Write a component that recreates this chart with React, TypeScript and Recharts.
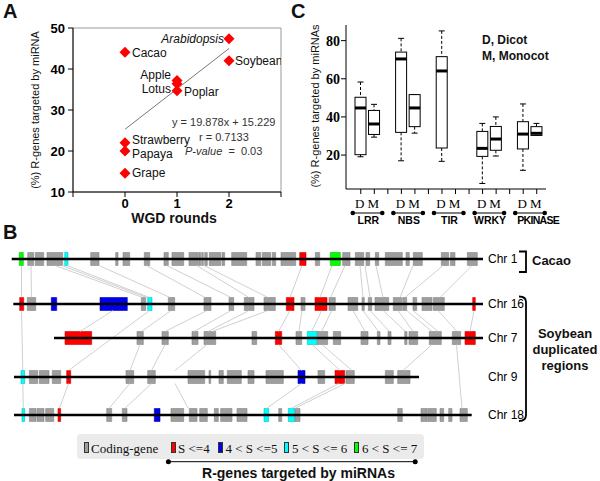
import React from "react";
import {
  Bar,
  ComposedChart,
  ReferenceArea,
  ReferenceLine,
  Scatter,
  ScatterChart,
  XAxis,
  YAxis,
} from "recharts";

const SANS = '"Liberation Sans", Arial, Helvetica, sans-serif';
const SERIF = '"Liberation Serif", "Times New Roman", serif';

// ---------- panel A: R-genes targeted vs WGD rounds
const species = ["Arabidopsis", "Cacao", "Soybean", "Apple", "Lotus", "Poplar", "Strawberry", "Papaya", "Grape"];
const wgdRounds = [2, 0, 2, 1, 1, 1, 0, 0, 0];
const pctTargeted = [47.4, 44.1, 42.0, 37.2, 36.4, 34.7, 22.0, 20.0, 14.6];
const fitStart = [0, 25.3];
const fitEnd = [2, 45.0];
const wgdTicks = [-1, 0, 1, 2, 3];
const pctTicksA = [10, 20, 30, 40, 50];

// ---------- panel C: box plots, [min, q1, median, q3, max]
const families = ["LRR", "NBS", "TIR", "WRKY", "PKINASE"];
const dicotBox = [
  [19.1, 20.2, 44.7, 50.3, 58.3],
  [17.0, 31.9, 70.4, 74.0, 81.2],
  [16.7, 23.7, 64.1, 71.6, 85.1],
  [5.1, 19.3, 23.5, 32.4, 36.6],
  [12.0, 23.2, 31.0, 37.5, 46.8],
];
const monocotBox = [
  [29.4, 30.8, 36.3, 43.4, 46.6],
  [31.5, 34.9, 44.7, 51.7, 51.7],
  null,
  [19.5, 22.5, 28.4, 35.0, 40.0],
  [30.3, 30.3, 31.4, 34.9, 36.6],
];
const pctTicksC = [20, 40, 60, 80];

// ---------- panel B: gene tracks. [start, end, class]
// g coding gene, r S<=4, b 4<S<=5, c 5<S<=6, n 6<S<=7
const chrNames = ["Chr 1", "Chr 16", "Chr 7", "Chr 9", "Chr 18"];
const chrTrack = [19, 64, 98, 137, 175];
const chrSpan = [
  [11.7, 483],
  [13.3, 483],
  [54, 483],
  [14, 419],
  [14, 471.7],
];
const genesChr1 = [
  [19.3, 23.3, "n"], [27.7, 33.7, "g"], [35.3, 43.7, "g"], [47, 62.7, "g"], [64.7, 68, "c"],
  [90.7, 99, "g"], [115.7, 118, "g"], [123, 129.7, "g"], [144.3, 149.7, "g"], [164, 168.3, "g"],
  [172, 183.7, "g"], [189, 198.3, "g"], [199, 200.7, "g"], [201.7, 203.3, "g"], [204.7, 207.3, "g"],
  [209.3, 220.7, "g"], [222, 224.7, "g"], [231.7, 246.7, "g"], [256, 260.7, "g"], [262.3, 270.7, "g"],
  [272.3, 275.7, "g"], [281, 295.7, "g"], [299.7, 306, "r"], [315.3, 319.7, "g"], [330.3, 340.3, "n"],
  [342.7, 350, "g"], [355.3, 363.7, "g"], [366, 369.7, "g"], [375.3, 378.7, "g"], [385.3, 402.3, "g"],
  [406, 409.3, "g"], [413.3, 422.3, "g"], [441.3, 448.7, "g"], [450.5, 455, "g"], [467.3, 477.3, "g"],
];
const genesChr16 = [
  [19.7, 23.7, "r"], [27.3, 35.7, "g"], [51.3, 56.7, "b"], [100, 127.3, "b"], [141.3, 145.7, "g"],
  [147.7, 152, "c"], [168.3, 174.7, "g"], [204, 211, "g"], [229, 233.7, "g"], [244.3, 254, "g"],
  [264, 275.3, "g"], [286.3, 294, "r"], [301, 305, "g"], [315, 327, "r"], [329, 335.3, "g"],
  [348, 357.7, "g"], [362, 364.3, "g"], [368.3, 371.7, "g"], [375, 388.7, "g"], [393.3, 401.7, "g"],
  [402.7, 406.7, "g"], [413, 416.7, "g"], [422, 432, "g"], [433.3, 444.3, "g"], [472.7, 475.3, "r"],
];
const genesChr7 = [
  [65, 91.7, "r"], [137, 143.3, "g"], [162, 168.3, "g"], [192, 198, "g"], [204, 215.7, "g"],
  [252, 256.7, "g"], [275.3, 281.7, "r"], [296, 301.7, "g"], [307.3, 317.3, "c"], [317.3, 327.7, "g"],
  [333.3, 340.7, "g"], [361, 368, "g"], [377.3, 380, "g"], [388, 391, "g"], [404.7, 407, "g"],
  [409, 417.7, "g"], [429.3, 441.3, "g"], [452.3, 460.7, "g"], [465, 475.3, "r"],
];
const genesChr9 = [
  [21, 24.7, "c"], [29.3, 37.7, "g"], [39.3, 49, "g"], [52.3, 60.7, "g"], [66.7, 70.7, "r"],
  [126, 133.7, "g"], [147.7, 155.3, "g"], [188, 204.7, "g"], [209, 210.7, "g"], [219, 223.3, "g"],
  [227.3, 241.3, "g"], [248, 254, "g"], [266, 283.3, "g"], [298, 305, "b"], [318, 324.7, "g"],
  [335, 344.7, "r"], [346, 354.3, "g"], [385.3, 393.3, "g"], [397.7, 410, "g"],
];
const genesChr18 = [
  [22, 24.7, "c"], [29.3, 36, "g"], [37, 44, "g"], [45.7, 53.7, "g"], [58, 60.7, "r"],
  [106.7, 111.7, "g"], [122.3, 127, "g"], [154.3, 160, "b"], [171, 183.7, "g"], [189.3, 197, "g"],
  [199.7, 207.3, "g"], [214.3, 218.3, "g"], [220.7, 232, "g"], [237, 247, "g"], [264, 268.7, "c"],
  [278.7, 281.7, "g"], [288.3, 295, "c"], [295, 300, "g"], [397.7, 402.3, "g"], [421, 427, "g"],
  [427.7, 436.3, "g"], [440, 443.7, "g"], [448.7, 452, "g"], [460, 467.3, "g"],
];
const genesByChr = [genesChr1, genesChr16, genesChr7, genesChr9, genesChr18];

// syntenic links, [position on upper track, position on lower track]
const linksChr1Chr16 = [
  [21.5, 21.5], [31, 31.5], [55, 142.7], [61.7, 146.7], [67, 149.5], [99, 170], [146.7, 205],
  [166.7, 231], [196.7, 249], [204, 268], [302, 290], [332, 320], [345, 330.5], [360, 363],
  [365, 370], [376, 383], [413, 400], [443, 405], [472, 440],
];
const linksChr16Chr7 = [
  [113, 80], [171, 141.7], [207, 165], [231, 194], [249, 208], [268, 212], [290, 278.5],
  [302, 299], [321.7, 311.7], [331.7, 321.7], [353, 365], [363, 378.5], [370, 389.5],
  [383, 405.5], [398, 413], [406.7, 432], [413, 438], [438, 457], [474, 470],
];
const linksChr16Chr9 = [[21.5, 22.8], [149.5, 68.5]];
const linksChr7Chr9 = [[140, 130], [165, 151.5], [207, 175], [278.5, 301.5], [312, 340], [322, 352], [432, 403]];
const linksChr7Chr18 = [[456.5, 462]];
const linksChr9Chr18 = [
  [22.8, 23.3], [68.5, 59.3], [129.8, 109], [151.5, 124.7], [175, 188.3], [301.5, 266.3], [339, 291], [345, 294.5],
];
const linkSets: [number, number, number[][]][] = [
  [0, 1, linksChr1Chr16],
  [1, 2, linksChr16Chr7],
  [1, 3, linksChr16Chr9],
  [2, 3, linksChr7Chr9],
  [2, 4, linksChr7Chr18],
  [3, 4, linksChr9Chr18],
];

const legendLabels = ["Coding-gene", "S <=4", "4 < S <=5", "5 < S <= 6", "6 < S <= 7"];
const legendClasses = ["g", "r", "b", "c", "n"];

const geneFill: Record<string, string> = { g: "#9e9e9e", r: "#ff0000", b: "#0000f0", c: "#00ffff", n: "#00ff00" };
const geneStroke: Record<string, string> = { g: "#858585", r: "#d00000", b: "#0000a0", c: "#00c0c0", n: "#00c000" };

// label placement next to the diamonds (style only)
const labelPlace: Record<string, [number, number, "start" | "end"]> = {
  Arabidopsis: [-5, 0, "end"],
  Cacao: [7, 0, "start"],
  Soybean: [6, 0, "start"],
  Apple: [-6, -5.5, "end"],
  Lotus: [-6, 4.5, "end"],
  Poplar: [7, 0.5, "start"],
  Strawberry: [7, -3.5, "start"],
  Papaya: [7, 2.5, "start"],
  Grape: [7, 0, "start"],
};

const pointsA = species.map((name, i) => ({ name, x: wgdRounds[i], y: pctTargeted[i] }));

const slots: any[] = [];
families.forEach((f, i) => {
  slots.push({ slot: `${f}-D`, tick: "D", family: f, stats: dicotBox[i] });
  slots.push({ slot: `${f}-M`, tick: "M", family: f, stats: monocotBox[i] });
  if (i < families.length - 1) slots.push({ slot: `gap${i}`, tick: "", family: "", stats: null });
});

const boxRange = (d: any) => (d.stats ? [d.stats[0], d.stats[4]] : null);

// chromosome backbones as two-point series
const chrLines = chrSpan.map(([s, e], r) => [
  { x: s, y: chrTrack[r] },
  { x: e, y: chrTrack[r] },
]);

function T({ x, y, size = 12, bold = false, italic = false, family = SANS, anchor = "start", color = "#111", children }: any) {
  const tx = anchor === "middle" ? "-50%" : anchor === "end" ? "-100%" : "0";
  return (
    <div
      style={{
        position: "absolute",
        left: x,
        top: y,
        transform: `translate(${tx}, -50%)`,
        fontSize: size,
        fontWeight: bold ? 700 : 400,
        fontStyle: italic ? "italic" : "normal",
        fontFamily: family,
        lineHeight: 1,
        whiteSpace: "nowrap",
        color,
      }}
    >
      {children}
    </div>
  );
}

function VText({ x, y, size = 11, children }: any) {
  return (
    <div
      style={{
        position: "absolute",
        left: x,
        top: y,
        transform: "translate(-50%, -50%) rotate(-90deg)",
        fontSize: size,
        fontFamily: SANS,
        lineHeight: 1,
        whiteSpace: "nowrap",
        color: "#111",
      }}
    >
      {children}
    </div>
  );
}

const DiamondLabel = (props: any) => {
  const { cx, cy, payload } = props;
  const [dx, dy, anchor] = labelPlace[payload.name];
  const r = 5.5;
  return (
    <g>
      <text
        x={cx + dx}
        y={cy + dy}
        dy="0.36em"
        textAnchor={anchor}
        fontSize={12}
        fontFamily={SANS}
        fontStyle={payload.name === "Arabidopsis" ? "italic" : "normal"}
        fill="#111"
      >
        {payload.name}
      </text>
      <polygon points={`${cx},${cy - r} ${cx + r},${cy} ${cx},${cy + r} ${cx - r},${cy}`} fill="#ff0000" />
    </g>
  );
};

const BoxShape = (props: any) => {
  const { x, y, width, height, payload } = props;
  const s = payload && payload.stats;
  if (!s || !height) return null;
  const [lo, q1, med, q3, hi] = s;
  const py = (v: number) => y + (height * (hi - v)) / (hi - lo);
  const cx = x + width / 2;
  const cap = 3;
  return (
    <g>
      <line x1={cx} x2={cx} y1={py(hi)} y2={py(q3)} stroke="#000" strokeDasharray="3 2" />
      <line x1={cx} x2={cx} y1={py(q1)} y2={py(lo)} stroke="#000" strokeDasharray="3 2" />
      <line x1={cx - cap} x2={cx + cap} y1={py(hi)} y2={py(hi)} stroke="#000" />
      <line x1={cx - cap} x2={cx + cap} y1={py(lo)} y2={py(lo)} stroke="#000" />
      <rect x={x} y={py(q3)} width={width} height={py(q1) - py(q3)} fill="#fff" stroke="#000" />
      <line x1={x} x2={x + width} y1={py(med)} y2={py(med)} stroke="#000" strokeWidth={3} />
    </g>
  );
};

const SlotTick = (props: any) => {
  const { x, y, payload } = props;
  const s = slots.find((d) => d.slot === payload.value);
  if (!s || !s.tick) return <g />;
  const isLast = s.family === families[families.length - 1];
  return (
    <g>
      <text x={x - 1} y={y} dy="0.71em" textAnchor="middle" fontSize={13} fontFamily={SERIF} fill="#000">
        {s.tick}
      </text>
      {s.tick === "D" && (
        <g>
          <line x1={x - 8} x2={x + 21.5} y1={y + 14} y2={y + 14} stroke="#000" strokeWidth={1} />
          <circle cx={x - 8} cy={y + 14} r={2.3} fill="#000" />
          <circle cx={x + 21.5} cy={y + 14} r={2.3} fill="#000" />
          <text
            x={isLast ? x + 15 : x + 7.5}
            y={y + 25}
            textAnchor="middle"
            fontSize={10.5}
            fontWeight={700}
            fontFamily={SANS}
            letterSpacing={isLast ? -0.7 : 0}
            fill="#000"
          >
            {s.family}
          </text>
        </g>
      )}
    </g>
  );
};

const axisTickA = { fill: "#000", fontSize: 13, fontWeight: 700, fontFamily: SANS };

export default function App() {
  const half = 6.5;
  return (
    <div style={{ position: "absolute", left: 0, top: 0, width: 600, height: 481, background: "#fff", overflow: "hidden" }}>
      {/* panel A */}
      <div style={{ position: "absolute", left: 0, top: 0 }}>
        <ScatterChart width={300} height={215} margin={{ top: 28, right: 19, bottom: 0, left: 0 }}>
          <XAxis
            type="number"
            dataKey="x"
            domain={[-1, 3]}
            ticks={wgdTicks}
            interval={0}
            tickFormatter={(v: number) => (v < 0 || v > 2 ? "" : String(v))}
            height={23}
            tickSize={5}
            tickMargin={2}
            stroke="#000"
            tick={axisTickA}
            allowDataOverflow
          />
          <YAxis
            type="number"
            dataKey="y"
            domain={[10, 50]}
            ticks={pctTicksA}
            interval={0}
            width={73}
            tickSize={5}
            tickMargin={3}
            stroke="#000"
            tick={axisTickA}
            allowDataOverflow
          />
          <ReferenceArea x1={-1} x2={3} y1={10} y2={50} fill="none" stroke="#9a9a9a" ifOverflow="visible" />
          <ReferenceLine
            segment={[
              { x: fitStart[0], y: fitStart[1] },
              { x: fitEnd[0], y: fitEnd[1] },
            ]}
            stroke="#777"
            strokeWidth={1}
          />
          <Scatter data={pointsA} dataKey="y" shape={DiamondLabel} isAnimationActive={false} />
        </ScatterChart>
      </div>
      <VText x={35} y={110}>(%) R-genes targeted by miRNA</VText>
      <T x={174} y={218} size={14} bold anchor="middle">WGD rounds</T>
      <T x={172} y={122} size={11} color="#333">y = 19.878x + 15.229</T>
      <T x={199} y={137} size={11} color="#333">r = 0.7133</T>
      <T x={185} y={151} size={11} color="#333">
        <i>P-value</i>&nbsp;&nbsp;=&nbsp; 0.03
      </T>

      {/* panel C */}
      <div style={{ position: "absolute", left: 270, top: 0 }}>
        <ComposedChart width={330} height={230} data={slots} margin={{ top: 25, right: 54, bottom: 0, left: 0 }}>
          <XAxis
            dataKey="slot"
            type="category"
            padding={{ left: 8, right: 2.5 }}
            height={41}
            tickSize={5}
            tickMargin={5}
            interval={0}
            stroke="#000"
            tick={SlotTick}
          />
          <XAxis xAxisId="top" dataKey="slot" orientation="top" height={0} tick={false} tickLine={false} stroke="#000" padding={{ left: 8, right: 2.5 }} />
          <YAxis
            type="number"
            domain={[2.2, 88.2]}
            ticks={pctTicksC}
            interval={0}
            width={76}
            tickSize={5}
            tickMargin={1}
            stroke="#000"
            tick={{ fill: "#000", fontSize: 14, fontWeight: 700, fontFamily: SERIF }}
            allowDataOverflow
          />
          <YAxis yAxisId="right" orientation="right" width={0} domain={[2.2, 88.2]} tick={false} tickLine={false} stroke="#000" />
          <Bar dataKey={boxRange} barSize={11} shape={BoxShape} isAnimationActive={false} />
        </ComposedChart>
      </div>
      <VText x={315} y={106}>(%) R-genes targeted by miRNAs</VText>
      <T x={482} y={40} size={12} bold>D, Dicot</T>
      <T x={482} y={56} size={12} bold>M, Monocot</T>

      {/* panel B */}
      <div style={{ position: "absolute", left: 0, top: 240 }}>
        <ComposedChart width={600} height={190} margin={{ top: 0, right: 0, bottom: 0, left: 0 }}>
          <XAxis type="number" dataKey="x" domain={[0, 483]} hide allowDataOverflow />
          <YAxis
            type="number"
            dataKey="y"
            domain={[0, 190]}
            reversed
            orientation="right"
            width={117}
            ticks={chrTrack}
            interval={0}
            tickFormatter={(v: number) => chrNames[chrTrack.indexOf(v)]}
            axisLine={false}
            tickLine={false}
            tickSize={0}
            tickMargin={5}
            stroke="none"
            tick={{ fill: "#000", fontSize: 12, fontFamily: SANS }}
            allowDataOverflow
          />
          {linkSets.map(([from, to, pairs]) =>
            pairs.map(([a, b], k) => (
              <ReferenceLine
                key={`l${from}-${to}-${k}`}
                segment={[
                  { x: a, y: chrTrack[from] + half },
                  { x: b, y: chrTrack[to] - half },
                ]}
                stroke="#c4c4c4"
                strokeWidth={0.8}
                ifOverflow="visible"
              />
            ))
          )}
          {genesByChr.map((genes, r) =>
            genes.map(([s, e, c]: any, k) => (
              <ReferenceArea
                key={`g${r}-${k}`}
                x1={s}
                x2={e}
                y1={chrTrack[r] - half}
                y2={chrTrack[r] + half}
                fill={geneFill[c]}
                fillOpacity={1}
                stroke={geneStroke[c]}
                strokeWidth={0.6}
                ifOverflow="visible"
              />
            ))
          )}
          {chrLines.map((pts, r) => (
            <Scatter
              key={`c${r}`}
              data={pts}
              dataKey="y"
              line={{ stroke: "#000", strokeWidth: 2.6 }}
              shape={() => <g />}
              isAnimationActive={false}
            />
          ))}
        </ComposedChart>
      </div>

      <svg style={{ position: "absolute", left: 0, top: 0 }} width={600} height={481}>
        <path d="M519,251.5 H526 V272 H519" fill="none" stroke="#000" strokeWidth={1.8} />
        <path d="M519,296.5 Q526,296.5 526,302 V415 Q526,421 519,421" fill="none" stroke="#000" strokeWidth={1.8} />
        <line x1={168.4} x2={415.2} y1={461.7} y2={461.7} stroke="#000" strokeWidth={1} />
        <circle cx={168.4} cy={461.7} r={2.5} fill="#000" />
        <circle cx={415.2} cy={461.7} r={2.5} fill="#000" />
      </svg>
      <T x={532} y={260} size={13} bold>Cacao</T>
      <T x={565} y={333} size={13} bold anchor="middle">Soybean</T>
      <T x={565} y={349} size={13} bold anchor="middle">duplicated</T>
      <T x={565} y={364.5} size={13} bold anchor="middle">regions</T>

      {/* legend */}
      <div style={{ position: "absolute", left: 76.5, top: 434, width: 347, height: 25, background: "#ebebeb", borderRadius: 4 }} />
      {legendClasses.map((c, i) => (
        <div
          key={c}
          style={{
            position: "absolute",
            left: [84, 170.5, 218, 284, 354][i],
            top: 442,
            width: 3,
            height: 9,
            background: geneFill[c],
            border: "1px solid #333",
          }}
        />
      ))}
      {legendLabels.map((t, i) => (
        <T key={t} x={[91, 178, 225.5, 292, 362][i]} y={447.5} size={13} family={SERIF}>
          {t}
        </T>
      ))}
      <T x={298.5} y={473} size={14} bold anchor="middle">R-genes targeted by miRNAs</T>

      <T x={3} y={11} size={20} bold>A</T>
      <T x={291} y={11} size={20} bold>C</T>
      <T x={3} y={232} size={20} bold>B</T>
    </div>
  );
}
